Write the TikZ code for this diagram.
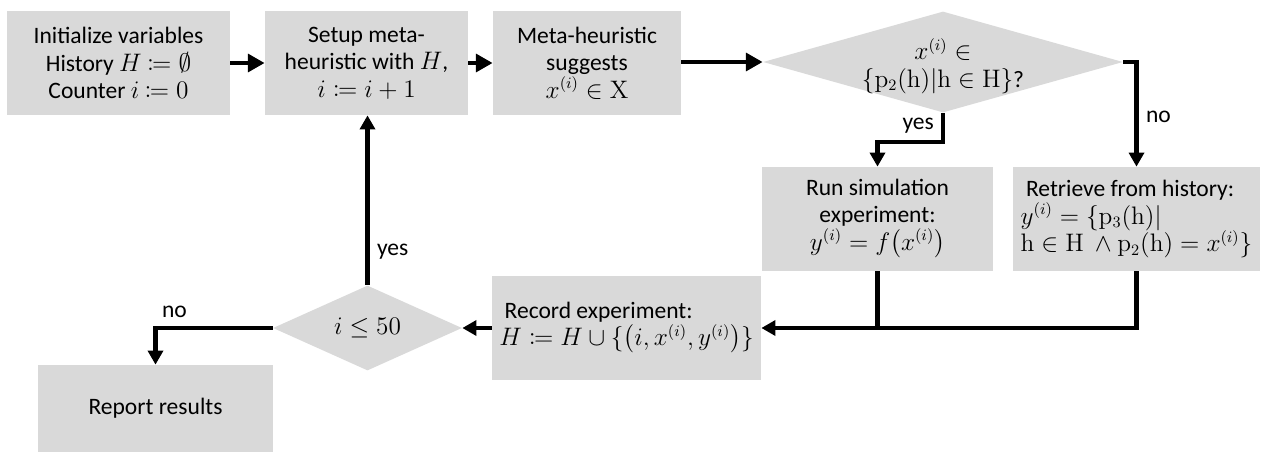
\documentclass[tikz,border=0pt]{standalone}
\usepackage[no-math]{fontspec}
\setmainfont{Carlito}
\usepackage{mathtools}
\usepackage{amssymb}
\usetikzlibrary{shapes.geometric,arrows.meta}
\definecolor{boxgray}{HTML}{D9D9D9}
\tikzset{
  every node/.style={font=\fontsize{13.4}{15.6}\selectfont},
  stepbox/.style={rectangle, fill=boxgray, inner sep=2pt, align=center},
  decision/.style={diamond, fill=boxgray, inner sep=0pt},
  flow/.style={line width=2.3pt, -{Triangle[length=8pt,width=8.5pt]}},
  bigflow/.style={line width=2.8pt, -{Triangle[length=9.5pt,width=10pt]}},
  plain/.style={line width=2.3pt},
  lbl/.style={inner sep=1pt}
}
\begin{document}
\begin{tikzpicture}[x=0.02cm, y=-0.02cm]
\useasboundingbox (0,0) rectangle (1261,453);

% process steps
\node[stepbox, minimum width=223*0.02cm, minimum height=104*0.02cm] (init) at (118.5,63)
  {Initialize variables\\ History $H$ $\coloneqq \emptyset$\\ Counter $i$ $\coloneqq 0$};
\node[stepbox, minimum width=203*0.02cm, minimum height=104*0.02cm] (setup) at (366.5,63)
  {Setup meta-\\ heuristic with $H$,\\ $i \coloneqq i+1$};
\node[stepbox, minimum width=188*0.02cm, minimum height=104*0.02cm] (suggest) at (587,63)
  {Meta-heuristic\\ suggests\\ $x^{(i)} \in \mathrm{X}$};
\node[decision, minimum width=360*0.02cm, minimum height=101*0.02cm] (known) at (943,62) {};
\node[align=center] at (943,66)
  {$x^{(i)} \in$\\ $\{\mathrm{p}_2(\mathrm{h})|\mathrm{h} \in \mathrm{H}\}$?};
\node[stepbox, minimum width=231*0.02cm, minimum height=104*0.02cm] (run) at (877.5,219)
  {Run simulation\\ experiment:\\ $y^{(i)} = f\bigl(x^{(i)}\bigr)$};
\node[stepbox, align=left, minimum width=247*0.02cm, minimum height=104*0.02cm] (retrieve) at (1136.5,219)
  {\ Retrieve from history:\\ $y^{(i)} = \{\mathrm{p}_3(\mathrm{h})|$\\ $\mathrm{h} \in \mathrm{H}\ \wedge \mathrm{p}_2(\mathrm{h}) = x^{(i)}\}$};
\node[stepbox, align=left, minimum width=269*0.02cm, minimum height=104*0.02cm] (record) at (626.5,328)
  {\ Record experiment:\\ $H \coloneqq H \cup \{\bigl(i, x^{(i)}, y^{(i)}\bigr)\}$};
\node[decision, minimum width=189*0.02cm, minimum height=85*0.02cm] (check) at (367.5,328) {};
\node at (367.5,328) {$i \le 50$};
\node[stepbox, minimum width=235*0.02cm, minimum height=87*0.02cm] (report) at (155.5,408.5)
  {Report results};

% connectors
\draw[bigflow] (init.east) -- (setup.west);
\draw[bigflow] (setup.east) -- (suggest.west);
\draw[bigflow] (suggest.east |- known.west) -- (known.west);
\draw[flow] (known.south) -- ++(0,29) -| (run.north);
\draw[flow] (known.east) -| (retrieve.north);
\draw[plain] (run.south) -- (run.south |- record.east);
\draw[flow] (retrieve.south) |- (record.east);
\draw[flow] (record.west) -- (check.east);
\draw[flow] (check.north) -- (check.north |- setup.south);
\draw[flow] (check.west) -| (report.north);

% branch labels
\node[lbl, anchor=east] at (936,126) {yes};
\node[lbl, anchor=west] at (1144,117) {no};
\node[lbl, anchor=west] at (375,252) {yes};
\node[lbl, anchor=west] at (160,312) {no};
\end{tikzpicture}
\end{document}
